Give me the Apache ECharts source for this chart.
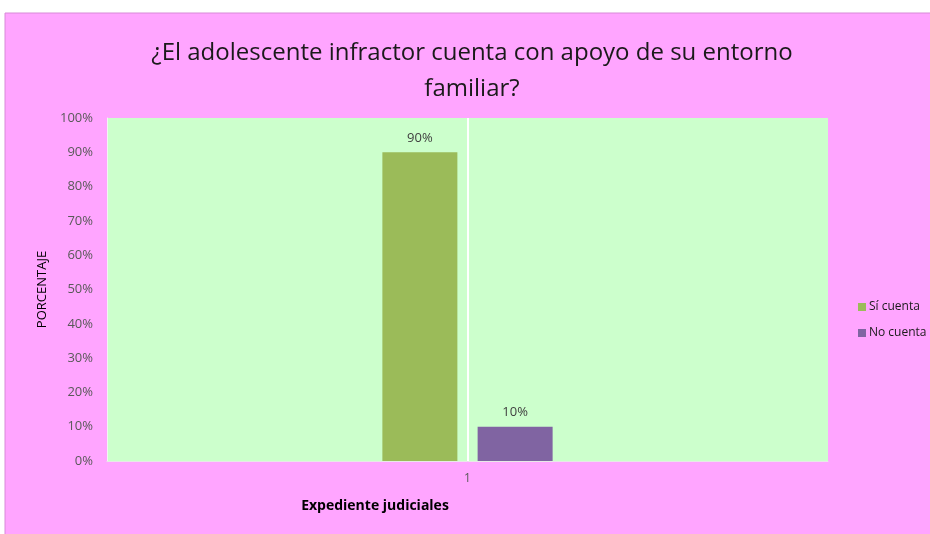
<!DOCTYPE html>
<html><head><meta charset="utf-8">
<script src="https://cdn.jsdelivr.net/npm/echarts@6/dist/echarts.min.js"></script>
<style>html,body{margin:0;padding:0;background:#fff}#c{width:930px;height:534px}</style>
</head><body><div id="c"></div>
<script>
var categories = ['1'];
var seriesNames = ['Sí cuenta', 'No cuenta'];
var siCuenta = [90];
var noCuenta = [10];
var yTicks = [0, 10, 20, 30, 40, 50, 60, 70, 80, 90, 100];

var chart = echarts.init(document.getElementById('c'));
var font = '"Open Sans", sans-serif';
chart.setOption({
  backgroundColor: '#ffffff',
  graphic: [{
    type: 'rect', z: -10, silent: true,
    shape: {x: 5, y: 13, width: 930, height: 530},
    style: {fill: '#FFA5FF', stroke: '#d88ad8', lineWidth: 1}
  }],
  title: {
    text: '¿El adolescente infractor cuenta con apoyo de su entorno\nfamiliar?',
    left: 467, top: 30, textAlign: 'center',
    textStyle: {fontFamily: font, fontWeight: 'normal', fontSize: 24, color: '#1a1a1a', lineHeight: 36}
  },
  legend: {
    orient: 'vertical', left: 853, top: 296, itemWidth: 8, itemHeight: 8, itemGap: 14,
    icon: 'rect',
    textStyle: {fontFamily: font, fontSize: 12, color: '#1a1a1a', padding: [0,0,0,-2]},
    data: seriesNames
  },
  grid: {left: 107, top: 118, width: 721, height: 343, show: true, backgroundColor: '#CCFFCC', borderWidth: 0},
  xAxis: {
    type: 'category', data: categories,
    name: 'Expediente judiciales', nameLocation: 'middle', nameGap: 38,
    nameTextStyle: {fontFamily: font, fontWeight: 'bold', fontSize: 14, color: '#000', padding: [0, 185, 0, 0]},
    axisLine: {lineStyle: {color: '#e8e8e8', width: 1}},
    axisTick: {show: false},
    axisLabel: {fontFamily: font, fontSize: 12, color: '#595959', margin: 12},
    splitLine: {show: false}
  },
  yAxis: {
    type: 'value', min: 0, max: 100, interval: 10,
    name: 'PORCENTAJE', nameLocation: 'middle', nameGap: 58, nameRotate: 90,
    nameTextStyle: {fontFamily: font, fontSize: 13, color: '#000'},
    axisLine: {show: true, lineStyle: {color: '#f4f4f4', width: 1}},
    axisTick: {show: false},
    axisLabel: {fontFamily: font, fontSize: 13, color: '#595959', margin: 14,
      formatter: function (v) { return yTicks.indexOf(v) >= 0 ? v + '%' : ''; }},
    splitLine: {show: false}
  },
  series: [{
    name: seriesNames[0], type: 'bar', data: siCuenta, barWidth: 75, barGap: '27%',
    itemStyle: {color: '#9BBB59'},
    label: {show: true, position: 'top', distance: 8, formatter: '{c}%', fontFamily: font, fontSize: 13, color: '#404040'}
  }, {
    name: seriesNames[1], type: 'bar', data: noCuenta, barWidth: 75,
    itemStyle: {color: '#8064A2'},
    label: {show: true, position: 'top', distance: 8, formatter: '{c}%', fontFamily: font, fontSize: 13, color: '#404040'}
  }, {
    name: 'divider', type: 'line', data: [null], symbol: 'none', silent: true,
    markLine: {silent: true, symbol: 'none', label: {show: false},
      lineStyle: {color: '#ffffff', width: 2, type: 'solid'}, data: [{xAxis: '1'}]}
  }]
});
</script></body></html>
